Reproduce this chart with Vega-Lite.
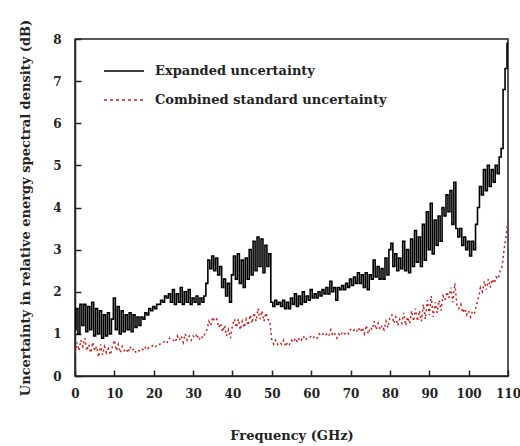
{
"$schema": "https://vega.github.io/schema/vega-lite/v6.json",
"width": 433, "height": 337,
"autosize": "none",
"padding": {"left": 75, "top": 39, "right": 12, "bottom": 70},
"background": "white",
"config": {"view": {"stroke": "#222", "strokeWidth": 1.5}, "font": "DejaVu Serif"},
"data": {"values": [
{"f":0,"e":1.1,"c":0.55},{"f":0.5,"e":1.6,"c":0.8},{"f":1,"e":1.0,"c":0.6},{"f":1.5,"e":1.7,"c":0.85},{"f":2,"e":1.2,"c":0.7},{"f":2.5,"e":1.7,"c":0.9},{"f":3,"e":1.05,"c":0.6},{"f":3.5,"e":1.65,"c":0.75},{"f":4,"e":1.1,"c":0.55},{"f":4.5,"e":1.75,"c":0.8},
{"f":5,"e":0.95,"c":0.6},{"f":5.5,"e":1.6,"c":0.7},{"f":6,"e":1.0,"c":0.45},{"f":6.5,"e":1.55,"c":0.75},{"f":7,"e":0.9,"c":0.5},{"f":7.5,"e":1.45,"c":0.7},{"f":8,"e":0.95,"c":0.55},{"f":8.5,"e":1.5,"c":0.65},{"f":9,"e":1.0,"c":0.5},{"f":9.5,"e":1.35,"c":0.7},
{"f":10,"e":1.85,"c":0.85},{"f":10.5,"e":1.1,"c":0.6},{"f":11,"e":1.65,"c":0.75},{"f":11.5,"e":1.0,"c":0.55},{"f":12,"e":1.55,"c":0.7},{"f":12.5,"e":1.05,"c":0.6},{"f":13,"e":1.45,"c":0.65},{"f":13.5,"e":1.1,"c":0.55},{"f":14,"e":1.5,"c":0.7},{"f":14.5,"e":1.05,"c":0.6},
{"f":15,"e":1.45,"c":0.65},{"f":15.5,"e":1.15,"c":0.55},{"f":16,"e":1.4,"c":0.6},{"f":16.5,"e":1.2,"c":0.6},{"f":17,"e":1.4,"c":0.65},{"f":17.5,"e":1.35,"c":0.6},{"f":18,"e":1.5,"c":0.7},{"f":18.5,"e":1.45,"c":0.65},{"f":19,"e":1.6,"c":0.7},{"f":19.5,"e":1.55,"c":0.7},
{"f":20,"e":1.65,"c":0.75},{"f":20.5,"e":1.6,"c":0.7},{"f":21,"e":1.7,"c":0.75},{"f":21.5,"e":1.7,"c":0.75},{"f":22,"e":1.8,"c":0.8},{"f":22.5,"e":1.75,"c":0.8},{"f":23,"e":1.9,"c":0.85},{"f":23.5,"e":1.85,"c":0.8},{"f":24,"e":1.95,"c":0.9},{"f":24.5,"e":1.75,"c":0.85},
{"f":25,"e":2.05,"c":0.85},{"f":25.5,"e":1.7,"c":0.8},{"f":26,"e":1.95,"c":0.95},{"f":26.5,"e":1.75,"c":0.85},{"f":27,"e":2.1,"c":0.95},{"f":27.5,"e":1.7,"c":0.8},{"f":28,"e":2.0,"c":1.0},{"f":28.5,"e":1.75,"c":0.85},{"f":29,"e":2.05,"c":0.95},{"f":29.5,"e":1.7,"c":0.85},
{"f":30,"e":1.85,"c":0.95},{"f":30.5,"e":1.75,"c":0.9},{"f":31,"e":1.9,"c":1.0},{"f":31.5,"e":1.7,"c":0.85},{"f":32,"e":1.85,"c":0.95},{"f":32.5,"e":1.75,"c":0.9},{"f":33,"e":1.9,"c":1.0},{"f":33.5,"e":2.2,"c":1.1},{"f":34,"e":2.75,"c":1.3},{"f":34.5,"e":2.55,"c":1.2},
{"f":35,"e":2.85,"c":1.4},{"f":35.5,"e":2.5,"c":1.3},{"f":36,"e":2.8,"c":1.35},{"f":36.5,"e":2.4,"c":1.15},{"f":37,"e":2.6,"c":1.25},{"f":37.5,"e":2.1,"c":1.05},{"f":38,"e":2.3,"c":1.2},{"f":38.5,"e":1.9,"c":0.95},{"f":39,"e":2.2,"c":1.1},{"f":39.5,"e":1.75,"c":0.9},
{"f":40,"e":2.4,"c":1.2},{"f":40.5,"e":2.85,"c":1.35},{"f":41,"e":2.3,"c":1.15},{"f":41.5,"e":2.9,"c":1.35},{"f":42,"e":2.2,"c":1.1},{"f":42.5,"e":2.75,"c":1.3},{"f":43,"e":2.1,"c":1.15},{"f":43.5,"e":2.8,"c":1.35},{"f":44,"e":2.3,"c":1.2},{"f":44.5,"e":3.0,"c":1.45},
{"f":45,"e":2.4,"c":1.25},{"f":45.5,"e":3.2,"c":1.5},{"f":46,"e":2.5,"c":1.3},{"f":46.5,"e":3.3,"c":1.6},{"f":47,"e":2.6,"c":1.35},{"f":47.5,"e":3.25,"c":1.55},{"f":48,"e":2.45,"c":1.3},{"f":48.5,"e":3.1,"c":1.5},{"f":49,"e":2.6,"c":1.35},{"f":49.5,"e":2.9,"c":1.3},
{"f":50,"e":1.75,"c":0.85},{"f":50.5,"e":1.65,"c":0.75},{"f":51,"e":1.8,"c":0.85},{"f":51.5,"e":1.7,"c":0.75},{"f":52,"e":1.75,"c":0.8},{"f":52.5,"e":1.65,"c":0.75},{"f":53,"e":1.8,"c":0.85},{"f":53.5,"e":1.6,"c":0.7},{"f":54,"e":1.75,"c":0.8},{"f":54.5,"e":1.6,"c":0.75},
{"f":55,"e":1.85,"c":0.85},{"f":55.5,"e":1.7,"c":0.8},{"f":56,"e":1.95,"c":0.9},{"f":56.5,"e":1.65,"c":0.8},{"f":57,"e":1.9,"c":0.9},{"f":57.5,"e":1.7,"c":0.85},{"f":58,"e":2.0,"c":0.95},{"f":58.5,"e":1.75,"c":0.85},{"f":59,"e":1.9,"c":0.9},{"f":59.5,"e":1.8,"c":0.9},
{"f":60,"e":2.05,"c":0.95},{"f":60.5,"e":1.85,"c":0.9},{"f":61,"e":1.95,"c":0.95},{"f":61.5,"e":1.85,"c":0.9},{"f":62,"e":2.0,"c":1.0},{"f":62.5,"e":1.9,"c":0.95},{"f":63,"e":2.05,"c":1.0},{"f":63.5,"e":1.95,"c":0.95},{"f":64,"e":2.1,"c":1.0},{"f":64.5,"e":1.95,"c":0.95},
{"f":65,"e":2.25,"c":1.1},{"f":65.5,"e":2.0,"c":0.95},{"f":66,"e":2.1,"c":1.0},{"f":66.5,"e":1.8,"c":0.9},{"f":67,"e":2.1,"c":1.0},{"f":67.5,"e":2.05,"c":0.95},{"f":68,"e":2.15,"c":1.05},{"f":68.5,"e":2.05,"c":1.0},{"f":69,"e":2.2,"c":1.05},{"f":69.5,"e":2.1,"c":1.0},
{"f":70,"e":2.3,"c":1.1},{"f":70.5,"e":2.15,"c":1.05},{"f":71,"e":2.35,"c":1.1},{"f":71.5,"e":2.2,"c":1.05},{"f":72,"e":2.45,"c":1.15},{"f":72.5,"e":2.2,"c":1.05},{"f":73,"e":2.4,"c":1.15},{"f":73.5,"e":2.1,"c":1.0},{"f":74,"e":2.45,"c":1.2},{"f":74.5,"e":2.05,"c":1.0},
{"f":75,"e":2.4,"c":1.15},{"f":75.5,"e":2.3,"c":1.1},{"f":76,"e":2.75,"c":1.3},{"f":76.5,"e":2.35,"c":1.1},{"f":77,"e":2.6,"c":1.25},{"f":77.5,"e":2.3,"c":1.1},{"f":78,"e":2.55,"c":1.2},{"f":78.5,"e":2.3,"c":1.1},{"f":79,"e":2.8,"c":1.3},{"f":79.5,"e":2.4,"c":1.15},
{"f":80,"e":3.0,"c":1.4},{"f":80.5,"e":3.15,"c":1.45},{"f":81,"e":2.6,"c":1.25},{"f":81.5,"e":2.9,"c":1.4},{"f":82,"e":2.5,"c":1.2},{"f":82.5,"e":2.8,"c":1.35},{"f":83,"e":2.55,"c":1.25},{"f":83.5,"e":3.2,"c":1.5},{"f":84,"e":2.5,"c":1.2},{"f":84.5,"e":3.0,"c":1.4},
{"f":85,"e":2.45,"c":1.25},{"f":85.5,"e":3.25,"c":1.55},{"f":86,"e":2.6,"c":1.3},{"f":86.5,"e":3.45,"c":1.6},{"f":87,"e":2.7,"c":1.3},{"f":87.5,"e":3.3,"c":1.55},{"f":88,"e":2.6,"c":1.3},{"f":88.5,"e":3.6,"c":1.7},{"f":89,"e":2.75,"c":1.35},{"f":89.5,"e":3.9,"c":1.8},
{"f":90,"e":3.0,"c":1.45},{"f":90.5,"e":4.1,"c":1.9},{"f":91,"e":2.9,"c":1.4},{"f":91.5,"e":3.7,"c":1.75},{"f":92,"e":3.1,"c":1.5},{"f":92.5,"e":3.8,"c":1.8},{"f":93,"e":3.2,"c":1.55},{"f":93.5,"e":4.0,"c":1.9},{"f":94,"e":3.8,"c":1.8},{"f":94.5,"e":4.3,"c":2.0},
{"f":95,"e":3.9,"c":1.85},{"f":95.5,"e":4.4,"c":2.1},{"f":96,"e":3.6,"c":1.75},{"f":96.5,"e":4.6,"c":2.2},{"f":97,"e":3.5,"c":1.7},{"f":97.5,"e":3.3,"c":1.6},{"f":98,"e":3.5,"c":1.7},{"f":98.5,"e":3.1,"c":1.5},{"f":99,"e":3.3,"c":1.6},{"f":99.5,"e":3.0,"c":1.45},
{"f":100,"e":3.2,"c":1.55},{"f":100.5,"e":2.85,"c":1.4},{"f":101,"e":3.2,"c":1.55},{"f":101.5,"e":3.0,"c":1.5},{"f":102,"e":3.6,"c":1.7},{"f":102.5,"e":4.0,"c":1.85},{"f":103,"e":4.5,"c":2.1},{"f":103.5,"e":4.3,"c":2.0},{"f":104,"e":4.9,"c":2.25},{"f":104.5,"e":4.4,"c":2.05},
{"f":105,"e":5.0,"c":2.3},{"f":105.5,"e":4.5,"c":2.1},{"f":106,"e":4.9,"c":2.3},{"f":106.5,"e":4.6,"c":2.2},{"f":107,"e":5.0,"c":2.35},{"f":107.5,"e":4.8,"c":2.3},{"f":108,"e":5.2,"c":2.5},{"f":108.5,"e":5.4,"c":2.6},{"f":109,"e":6.8,"c":3.0},{"f":109.5,"e":7.3,"c":3.3},
{"f":110,"e":7.9,"c":3.7}
]},
"encoding": {
  "x": {"field": "f", "type": "quantitative", "scale": {"domain": [0, 110], "nice": false},
    "axis": {"title": "Frequency (GHz)", "values": [0,10,20,30,40,50,60,70,80,90,100,110], "grid": false,
      "tickSize": -6, "tickWidth": 1.5, "tickColor": "#222", "domainColor": "#222", "domainWidth": 1.5,
      "labelPadding": 18, "labelFont": "DejaVu Serif", "labelFontSize": 12, "labelFontWeight": "bold", "labelColor": "#222", "labelFlush": false,
      "titleFont": "DejaVu Serif", "titleFontSize": 13, "titleFontWeight": "bold", "titleColor": "#222", "titlePadding": 30}}
},
"layer": [
  {"mark": {"type": "line", "strokeWidth": 1.6, "interpolate": "step"},
   "encoding": {
     "y": {"field": "e", "type": "quantitative", "scale": {"domain": [0, 8], "nice": false},
       "axis": {"title": "Uncertainty in relative energy spectral density (dB)", "values": [0,1,2,3,4,5,6,7,8], "grid": false,
         "tickSize": -6, "tickWidth": 1.5, "tickColor": "#222", "domainColor": "#222", "domainWidth": 1.5,
         "labelPadding": 20, "labelFont": "DejaVu Serif", "labelFontSize": 12, "labelFontWeight": "bold", "labelColor": "#222", "labelFlush": false,
         "titleFont": "DejaVu Serif", "titleFontSize": 13, "titleFontWeight": "bold", "titleColor": "#222", "titlePadding": 20}},
     "color": {"datum": "Expanded uncertainty", "type": "nominal",
       "scale": {"domain": ["Expanded uncertainty", "Combined standard uncertainty"], "range": ["#000000", "#c81e1e"]},
       "legend": {"title": null, "orient": "none", "legendX": 28, "legendY": 11, "padding": 0,
         "symbolType": "stroke", "symbolSize": 1600, "symbolStrokeWidth": 1.5, "labelOffset": 10, "rowPadding": 1,
         "labelFont": "DejaVu Serif", "labelFontSize": 13, "labelFontWeight": "bold", "labelColor": "#222", "labelLimit": 400,
         "encode": {"symbols": {"update": {"strokeDash": {"signal": "datum.value === 'Combined standard uncertainty' ? [3, 3] : [1, 0]"}}}}}}
   }},
  {"mark": {"type": "line", "strokeWidth": 1.5, "strokeDash": [2, 3]},
   "encoding": {
     "y": {"field": "c", "type": "quantitative", "title": "Uncertainty in relative energy spectral density (dB)"},
     "color": {"datum": "Combined standard uncertainty", "type": "nominal"}
   }}
]
}
